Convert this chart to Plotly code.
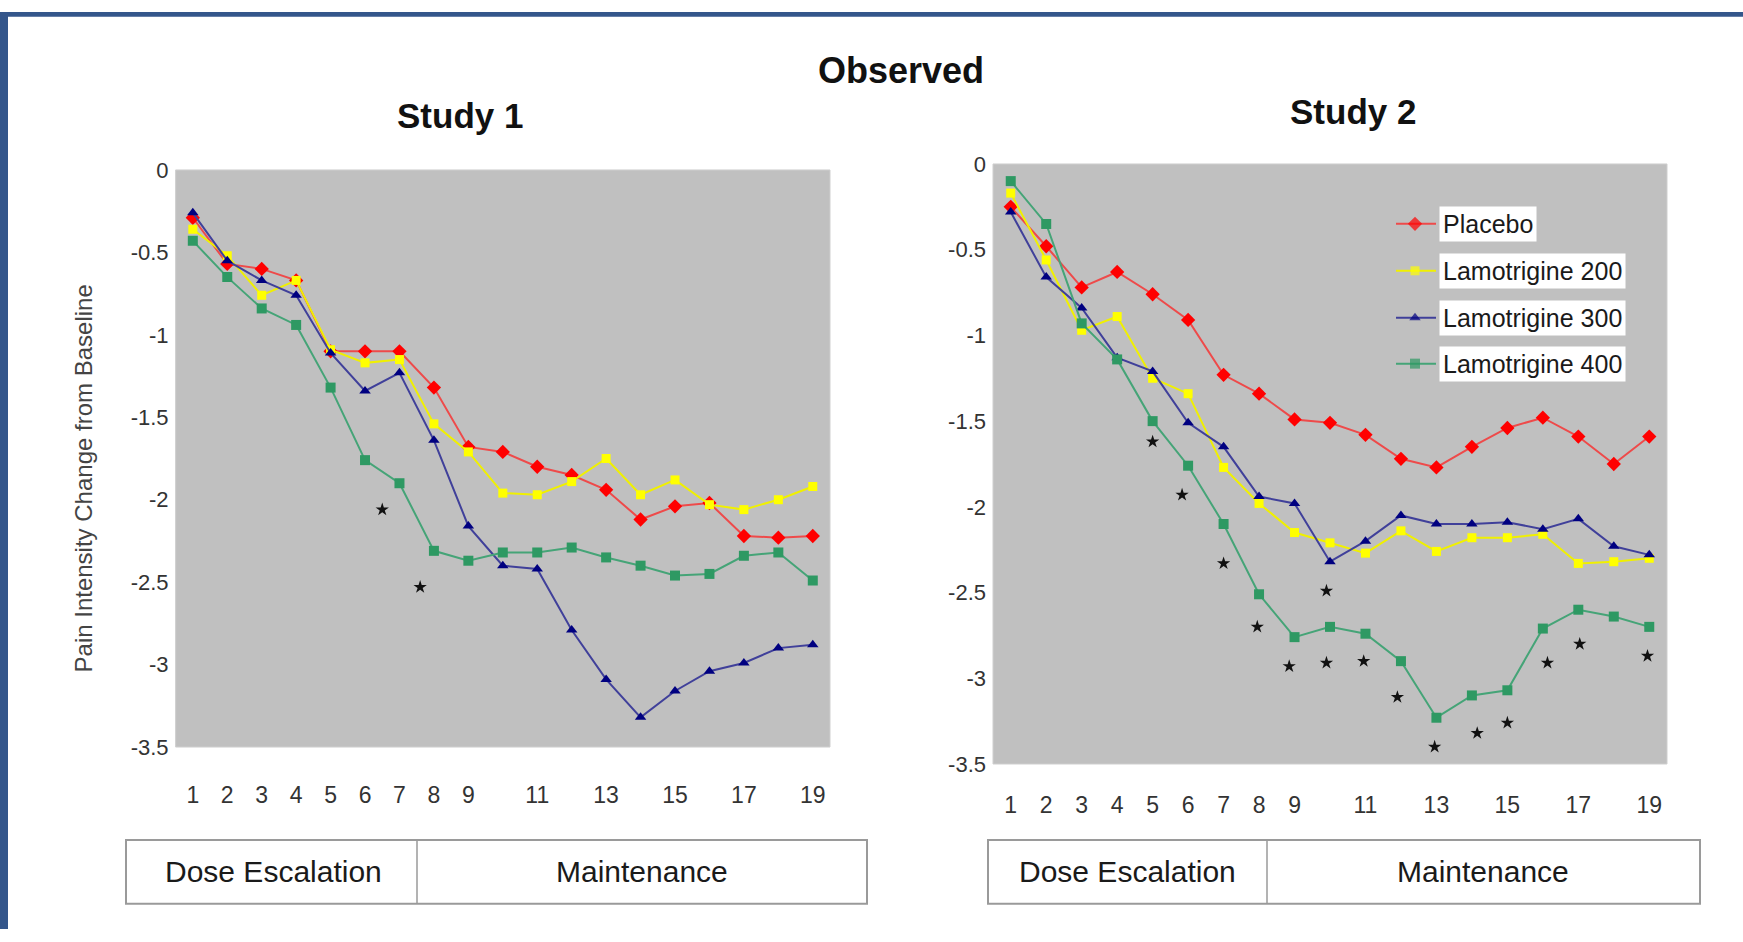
import plotly.graph_objects as go

W, H = 1743, 942

# ---------------- data ----------------
weeks = list(range(1, 20))
tick_vals = [1, 2, 3, 4, 5, 6, 7, 8, 9, 11, 13, 15, 17, 19]
tick_text = [str(v) for v in tick_vals]
y_tick_vals = [0, -0.5, -1, -1.5, -2, -2.5, -3, -3.5]
y_tick_text = ["0", "-0.5", "-1", "-1.5", "-2", "-2.5", "-3", "-3.5"]
series_names = ["Placebo", "Lamotrigine 200", "Lamotrigine 300", "Lamotrigine 400"]

s1_placebo = [-0.29, -0.57, -0.60, -0.67, -1.10, -1.10, -1.10, -1.32, -1.68, -1.71,
              -1.80, -1.85, -1.94, -2.12, -2.04, -2.02, -2.22, -2.23, -2.22]
s1_lam200 = [-0.36, -0.52, -0.76, -0.67, -1.09, -1.17, -1.15, -1.54, -1.71, -1.96,
             -1.97, -1.89, -1.75, -1.97, -1.88, -2.03, -2.06, -2.00, -1.92]
s1_lam300 = [-0.26, -0.55, -0.67, -0.76, -1.11, -1.34, -1.23, -1.64, -2.16, -2.40,
             -2.42, -2.79, -3.09, -3.32, -3.16, -3.04, -2.99, -2.90, -2.88]
s1_lam400 = [-0.43, -0.65, -0.84, -0.94, -1.32, -1.76, -1.90, -2.31, -2.37, -2.32,
             -2.32, -2.29, -2.35, -2.40, -2.46, -2.45, -2.34, -2.32, -2.49]
s1_star_x = [6.5, 7.6]
s1_star_y = [-2.06, -2.53]

s2_placebo = [-0.25, -0.48, -0.72, -0.63, -0.76, -0.91, -1.23, -1.34, -1.49, -1.51,
              -1.58, -1.72, -1.77, -1.65, -1.54, -1.48, -1.59, -1.75, -1.59]
s2_lam200 = [-0.17, -0.56, -0.97, -0.89, -1.25, -1.34, -1.77, -1.98, -2.15, -2.21,
             -2.27, -2.14, -2.26, -2.18, -2.18, -2.16, -2.33, -2.32, -2.30]
s2_lam300 = [-0.28, -0.66, -0.84, -1.13, -1.21, -1.51, -1.65, -1.94, -1.98, -2.32,
             -2.20, -2.05, -2.10, -2.10, -2.09, -2.13, -2.07, -2.23, -2.28]
s2_lam400 = [-0.10, -0.35, -0.93, -1.14, -1.50, -1.76, -2.10, -2.51, -2.76, -2.70,
             -2.74, -2.90, -3.23, -3.10, -3.07, -2.71, -2.60, -2.64, -2.70]
s2_star_x = [5.0, 5.83, 7.0, 7.95, 8.85, 9.9, 9.9, 10.95, 11.9, 12.95, 14.15, 15.0, 16.13, 17.04, 18.95]
s2_star_y = [-1.62, -1.93, -2.33, -2.70, -2.93, -2.49, -2.91, -2.90, -3.11, -3.40, -3.32, -3.26, -2.91, -2.80, -2.87]

phase_labels = ["Dose Escalation", "Maintenance"]
titles = ["Observed", "Study 1", "Study 2"]
y_title = "Pain Intensity Change from Baseline"

# ---------------- styles ----------------
SANS = "Liberation Sans, Arial, sans-serif"
styles = [
    dict(line="#ee4a4a", marker="#ff0000", symbol="diamond", size=11),
    dict(line="#f0f000", marker="#ffff00", symbol="square", size=9),
    dict(line="#40409a", marker="#000080", symbol="triangle-up", size=10),
    dict(line="#45a477", marker="#2e9963", symbol="square", size=10),
]

# the capture maps figure rows to picture rows as  row = 10.8 + 0.975 * y
Y_OFF, Y_SC = 10.8, 0.975


def px_x(p):
    return p / W


def fig_y(t):
    """picture row -> figure pixel row"""
    return (t - Y_OFF) / Y_SC


def px_y(t):
    """picture row -> paper fraction"""
    return 1 - fig_y(t) / H


fig = go.Figure()

study1 = [s1_placebo, s1_lam200, s1_lam300, s1_lam400]
study2 = [s2_placebo, s2_lam200, s2_lam300, s2_lam400]

for data, xa, ya in [(study1, "x", "y"), (study2, "x2", "y2")]:
    for name, vals, st in zip(series_names, data, styles):
        fig.add_trace(go.Scatter(
            x=weeks, y=vals, name=name, mode="lines+markers", xaxis=xa, yaxis=ya,
            line=dict(color=st["line"], width=2),
            marker=dict(color=st["marker"], symbol=st["symbol"], size=st["size"], line=dict(width=0)),
            showlegend=False, hoverinfo="skip"))

for sx, sy, xa, ya in [(s1_star_x, s1_star_y, "x", "y"), (s2_star_x, s2_star_y, "x2", "y2")]:
    fig.add_trace(go.Scatter(
        x=sx, y=sy, mode="markers", xaxis=xa, yaxis=ya,
        marker=dict(symbol="star", size=10, color="#111111", line=dict(width=0)),
        showlegend=False, hoverinfo="skip"))

# legend icons on a pixel overlay axis
leg_y = [223, 270, 317, 363]
for name, st, ly in zip(series_names, styles, leg_y):
    fy = fig_y(ly)
    fig.add_trace(go.Scatter(
        x=[1396, 1415, 1436], y=[fy, fy, fy], mode="lines+markers", xaxis="x3", yaxis="y3",
        line=dict(color=st["line"], width=2),
        marker=dict(color=st["marker"], symbol=st["symbol"], size=[0, st["size"], 0], line=dict(width=0)),
        showlegend=False, hoverinfo="skip"))

common_y = dict(range=[-3.5, 0], tickvals=y_tick_vals, ticktext=y_tick_text, showgrid=False,
                zeroline=False, showline=False, ticks="", ticklabelstandoff=6,
                tickfont=dict(family=SANS, size=22, color="#333333"))
common_x = dict(range=[0.5, 19.5], tickvals=tick_vals, ticktext=tick_text, showgrid=False,
                zeroline=False, showline=False, ticks="",
                tickfont=dict(family=SANS, size=23, color="#333333"))

fig.update_layout(
    width=W, height=H, autosize=False,
    margin=dict(l=0, r=0, t=0, b=0),
    paper_bgcolor="white", plot_bgcolor="rgba(0,0,0,0)",
    xaxis=dict(domain=[px_x(175.6), px_x(830)], anchor="y", ticklabelstandoff=32, **common_x),
    yaxis=dict(domain=[px_y(747), px_y(169)], anchor="x", **common_y),
    xaxis2=dict(domain=[px_x(993), px_x(1667)], anchor="y2", ticklabelstandoff=25, **common_x),
    yaxis2=dict(domain=[px_y(764), px_y(163)], anchor="x2", **common_y),
    xaxis3=dict(domain=[0, 1], range=[0, W], visible=False, anchor="y3"),
    yaxis3=dict(domain=[0, 1], range=[H, 0], visible=False, anchor="x3"),
)

shapes = []
# gray plot areas
for xr, yr in [("x domain", "y domain"), ("x2 domain", "y2 domain")]:
    shapes.append(dict(type="rect", xref=xr, yref=yr, x0=0, x1=1, y0=0, y1=1,
                       fillcolor="#c0c0c0", line=dict(color="#cfcfcf", width=1), layer="below"))
# blue frame (top and left)
shapes.append(dict(type="rect", xref="paper", yref="paper", x0=0, x1=1, y0=1 - 5 / H, y1=1,
                   fillcolor="#34568b", line=dict(width=0)))
shapes.append(dict(type="rect", xref="paper", yref="paper", x0=0, x1=px_x(8), y0=0, y1=1,
                   fillcolor="#34568b", line=dict(width=0)))
# phase boxes
for x0, xm, x1, y0, y1 in [(126, 417, 867, 840, 904), (988, 1267, 1700, 840, 904)]:
    shapes.append(dict(type="rect", xref="paper", yref="paper", x0=px_x(x0), x1=px_x(x1),
                       y0=px_y(y1), y1=px_y(y0), line=dict(color="#9a9a9a", width=2)))
    shapes.append(dict(type="line", xref="paper", yref="paper", x0=px_x(xm), x1=px_x(xm),
                       y0=px_y(y1), y1=px_y(y0), line=dict(color="#9a9a9a", width=1.5)))
fig.update_layout(shapes=shapes)


def label(text, x, y, size, color="#111111", **kw):
    d = dict(text=text, x=px_x(x), y=px_y(y), xref="paper", yref="paper", showarrow=False,
             xanchor=kw.pop("xanchor", "center"), yanchor="middle",
             font=dict(family=SANS, size=size, color=color))
    d.update(kw)
    return d


ann = [
    label("<b>" + titles[0] + "</b>", 901, 69, 36),
    label("<b>" + titles[1] + "</b>", 460, 114, 35),
    label("<b>" + titles[2] + "</b>", 1353, 110, 35),
    label(y_title, 83, 478, 24, color="#444444", textangle=-90),
]
for cx, lab in [(273, phase_labels[0]), (642, phase_labels[1]), (1127, phase_labels[0]), (1483, phase_labels[1])]:
    ann.append(label(lab, cx, 872, 30, color="#1a1a1a"))
for name, ly in zip(series_names, leg_y):
    ann.append(label(name, 1439, ly, 25, color="#1a1a1a", xanchor="left", bgcolor="white", borderpad=3))
fig.update_layout(annotations=ann)

fig.write_html("out.html")
